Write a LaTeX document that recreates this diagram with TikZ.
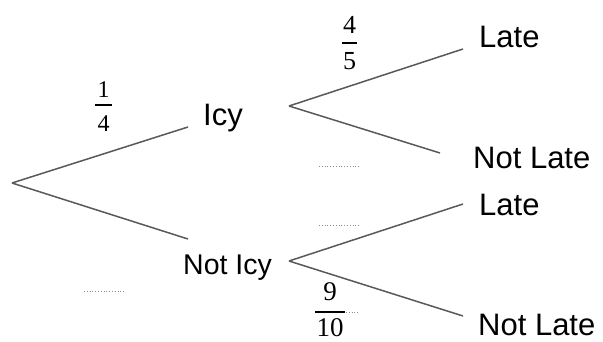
\documentclass[tikz,border=0pt]{standalone}
\usepackage{fontspec}
\setmainfont{Liberation Serif}
\setsansfont{Liberation Sans}
\tikzset{
  branch/.style={draw=black!65, line width=1.5pt},
  lbl/.style={font=\sffamily\fontsize{31}{31}\selectfont, anchor=base west, inner sep=0pt, text=black},
  lblsm/.style={font=\sffamily\fontsize{28.5}{28.5}\selectfont, anchor=base west, inner sep=0pt, text=black},
  digit/.style={inner sep=0pt, anchor=base, font=\fontsize{26}{26}\selectfont},
  fbar/.style={draw=black, line width=1.6pt},
  blank/.style={draw=black!45, dotted, line width=0.8pt}
}
\begin{document}
\begin{tikzpicture}[x=1pt,y=-1pt]
\useasboundingbox (0,0) rectangle (603,342);
% branch points
\coordinate (root) at (12,183);
\coordinate (icyend) at (188,127);
\coordinate (noticyend) at (188,239);
\coordinate (icysplit) at (289,106);
\coordinate (noticysplit) at (289,261);
\coordinate (l1) at (463,49);
\coordinate (nl1) at (440,153);
\coordinate (l2) at (463,204);
\coordinate (nl2) at (463,316);
% labels
\node[lbl] (icy) at (203,126) {Icy};
\node[lblsm] (noticy) at (183,274) {Not Icy};
\node[lbl] (late1) at (479,48) {Late};
\node[lbl] (notlate1) at (473,169) {Not Late};
\node[lbl] (late2) at (479,215) {Late};
\node[lbl] (notlate2) at (478,335) {Not Late};
% fraction 1/4
\node[digit, font=\fontsize{24}{24}\selectfont] (f14n) at (103.5,98) {1};
\node[digit, font=\fontsize{24}{24}\selectfont] (f14d) at (103.5,132) {4};
\coordinate (f14a) at (95,105); \coordinate (f14b) at (112,105);
\draw[fbar] (f14a) -- (f14b);
% fraction 4/5
\node[digit] (f45n) at (349.5,34) {4};
\node[digit] (f45d) at (349.5,70) {5};
\coordinate (f45a) at (342,43); \coordinate (f45b) at (357,43);
\draw[fbar] (f45a) -- (f45b);
% fraction 9/10
\node[digit, font=\fontsize{27}{27}\selectfont] (f910n) at (330,300) {9};
\node[digit, font=\fontsize{27}{27}\selectfont] (f910d) at (330,336) {10};
\coordinate (f910a) at (315,312); \coordinate (f910b) at (345,312);
\draw[fbar] (f910a) -- (f910b);
% branches
\draw[branch] (root) -- (icyend);
\draw[branch] (root) -- (noticyend);
\draw[branch] (icysplit) -- (l1);
\draw[branch] (icysplit) -- (nl1);
\draw[branch] (noticysplit) -- (l2);
\draw[branch] (noticysplit) -- (nl2);
% blanks
\coordinate (b1a) at (84,291); \coordinate (b1b) at (124,291);
\coordinate (b2a) at (319,166); \coordinate (b2b) at (359,166);
\coordinate (b3a) at (319,225); \coordinate (b3b) at (359,225);
\coordinate (b4a) at (346,312); \coordinate (b4b) at (358,312);
\draw[blank] (b1a) -- (b1b);
\draw[blank] (b2a) -- (b2b);
\draw[blank] (b3a) -- (b3b);
\draw[blank] (b4a) -- (b4b);
\end{tikzpicture}
\end{document}
